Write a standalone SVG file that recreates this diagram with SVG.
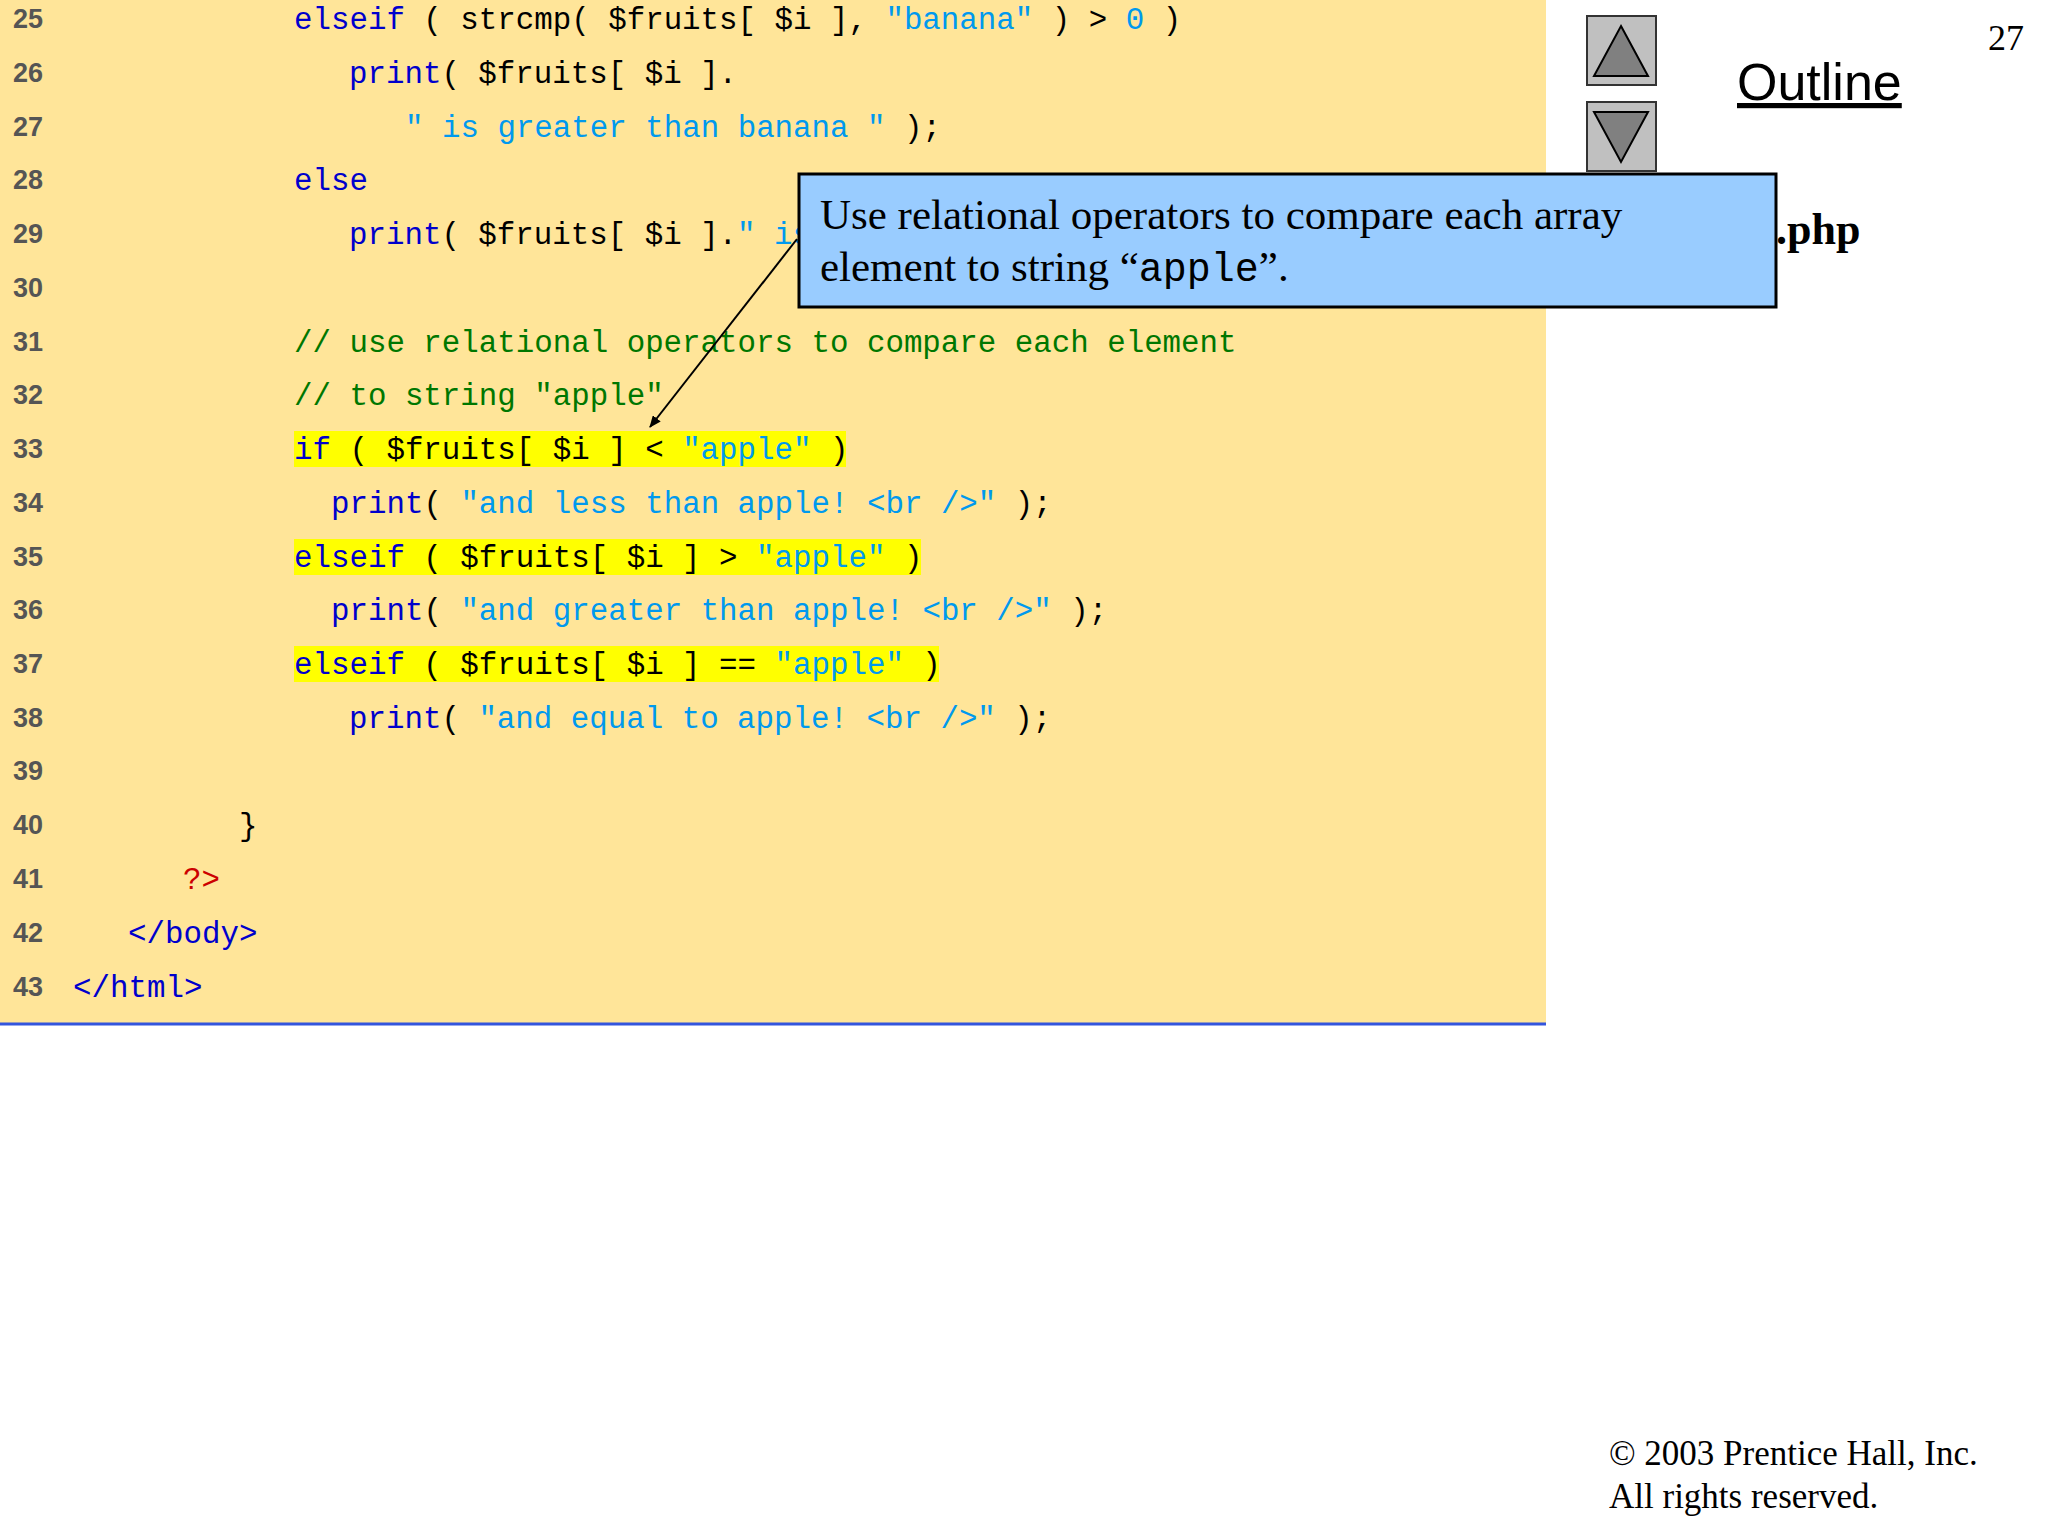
<svg xmlns="http://www.w3.org/2000/svg" width="2048" height="1536" viewBox="0 0 2048 1536">
<style>
.ln{font-family:"Liberation Sans",Arial,sans-serif;font-weight:bold;font-size:27px;fill:#555}
.c{font-family:"Liberation Mono","DejaVu Sans Mono",monospace;font-size:30.8px;fill:#000;white-space:pre}
.k{fill:#0000cc}.s{fill:#0099ee}.g{fill:#007700}.r{fill:#cc0000}
.hl{fill:#ffff00}
.t{font-family:"Liberation Serif","Times New Roman",serif;fill:#000}
.btn{fill:#c0c0c0;stroke:#333;stroke-width:2}
.tri{fill:#808080;stroke:#000;stroke-width:2}
</style>
<defs><marker id="ah" markerWidth="12" markerHeight="10" refX="11" refY="5" orient="auto" markerUnits="userSpaceOnUse"><path d="M0,0 L12,5 L0,10 z" fill="#000"/></marker></defs>
<rect width="2048" height="1536" fill="#fff"/>
<g id="panel"><rect x="0" y="0" width="1546" height="1023" fill="#ffe599"/><line x1="0" y1="1024" x2="1546" y2="1024" stroke="#3355dd" stroke-width="3"/></g>
<g id="highlights">
<rect class="hl" x="294" y="431" width="552" height="36"/>
<rect class="hl" x="294" y="539" width="627" height="36"/>
<rect class="hl" x="294" y="646" width="645" height="36"/>
</g>
<g id="linenumbers">
<text class="ln" x="13" y="28">25</text><text class="ln" x="13" y="82">26</text><text class="ln" x="13" y="136">27</text><text class="ln" x="13" y="189">28</text><text class="ln" x="13" y="243">29</text><text class="ln" x="13" y="297">30</text><text class="ln" x="13" y="351">31</text><text class="ln" x="13" y="404">32</text><text class="ln" x="13" y="458">33</text><text class="ln" x="13" y="512">34</text><text class="ln" x="13" y="566">35</text><text class="ln" x="13" y="619">36</text><text class="ln" x="13" y="673">37</text><text class="ln" x="13" y="727">38</text><text class="ln" x="13" y="780">39</text><text class="ln" x="13" y="834">40</text><text class="ln" x="13" y="888">41</text><text class="ln" x="13" y="942">42</text><text class="ln" x="13" y="996">43</text>
</g>
<g id="code">
<text class="c" x="294" y="29"><tspan class="k">elseif</tspan> ( strcmp( $fruits[ $i ], <tspan class="s">"banana"</tspan> ) &gt; <tspan class="s">0</tspan> )</text>
<text class="c" x="349" y="83"><tspan class="k">print</tspan>( $fruits[ $i ].</text>
<text class="c" x="405" y="137"><tspan class="s">" is greater than banana "</tspan> );</text>
<text class="c" x="294" y="190"><tspan class="k">else</tspan></text>
<text class="c" x="349" y="244"><tspan class="k">print</tspan>( $fruits[ $i ].<tspan class="s">" is</tspan></text>
<text class="c g" x="294" y="352">// use relational operators to compare each element</text>
<text class="c g" x="294" y="405">// to string "apple"</text>
<text class="c" x="294" y="459"><tspan class="k">if</tspan> ( $fruits[ $i ] &lt; <tspan class="s">"apple"</tspan> )</text>
<text class="c" x="331" y="513"><tspan class="k">print</tspan>( <tspan class="s">"and less than apple! &lt;br /&gt;"</tspan> );</text>
<text class="c" x="294" y="567"><tspan class="k">elseif</tspan> ( $fruits[ $i ] &gt; <tspan class="s">"apple"</tspan> )</text>
<text class="c" x="331" y="620"><tspan class="k">print</tspan>( <tspan class="s">"and greater than apple! &lt;br /&gt;"</tspan> );</text>
<text class="c" x="294" y="674"><tspan class="k">elseif</tspan> ( $fruits[ $i ] == <tspan class="s">"apple"</tspan> )</text>
<text class="c" x="349" y="728"><tspan class="k">print</tspan>( <tspan class="s">"and equal to apple! &lt;br /&gt;"</tspan> );</text>
<text class="c" x="239" y="835">}</text>
<text class="c r" x="183" y="889">?&gt;</text>
<text class="c k" x="128" y="943">&lt;/body&gt;</text>
<text class="c k" x="73" y="997">&lt;/html&gt;</text>
</g>
<g id="nav">
<rect class="btn" x="1587" y="16" width="69" height="69"/><path class="tri" d="M1621,26 L1648,76 L1594,76 z"/>
<rect class="btn" x="1587" y="102" width="69" height="69"/><path class="tri" d="M1594,112 L1648,112 L1621,162 z"/>
<text x="1737" y="100" font-family="'Liberation Sans',Arial,sans-serif" font-size="52" text-decoration="underline">Outline</text>
<text class="t" x="1988" y="50" font-size="36">27</text>
<text class="t" x="1776" y="244" font-size="44" font-weight="bold">.php</text>
</g>
<g id="callout">
<rect x="799" y="174" width="977" height="133" fill="#99ccff" stroke="#000" stroke-width="3"/>
<text class="t" x="820" y="229" font-size="43">Use relational operators to compare each array</text>
<text class="t" x="820" y="281" font-size="43">element to string “<tspan font-family="'Liberation Mono',monospace" font-size="40">apple</tspan>”.</text>
</g>
<g id="connectors"><line x1="797" y1="239" x2="650" y2="427" stroke="#000" stroke-width="2" marker-end="url(#ah)"/></g>
<g id="footer">
<text class="t" x="1609" y="1465" font-size="35">© 2003 Prentice Hall, Inc.</text>
<text class="t" x="1609" y="1508" font-size="35">All rights reserved.</text>
</g>
</svg>
